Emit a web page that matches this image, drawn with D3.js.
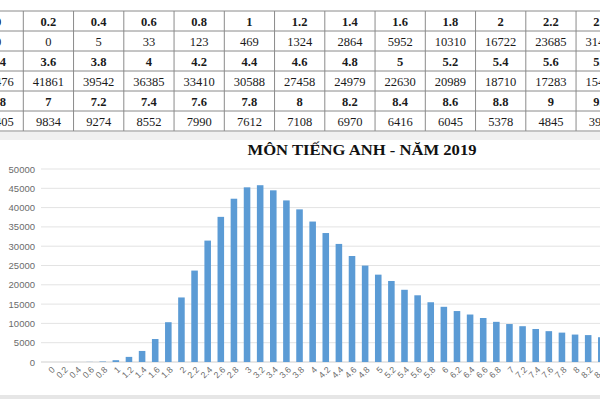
<!DOCTYPE html>
<html><head><meta charset="utf-8">
<script src="https://cdn.jsdelivr.net/npm/d3@7/dist/d3.min.js"></script>
<style>body{margin:0;background:#fff}svg{display:block}</style>
</head><body>
<svg id="c" width="600" height="399"></svg>
<script>
const scores = ["0","0.2","0.4","0.6","0.8","1","1.2","1.4","1.6","1.8","2","2.2","2.4","2.6","2.8","3","3.2",
  "3.4","3.6","3.8","4","4.2","4.4","4.6","4.8","5","5.2","5.4","5.6","5.8","6","6.2","6.4","6.6",
  "6.8","7","7.2","7.4","7.6","7.8","8","8.2","8.4","8.6","8.8","9","9.2"];
const counts = [0,0,5,33,123,469,1324,2864,5952,10310,16722,23685,31450,37600,42300,45250,45800,
  44476,41861,39542,36385,33410,30588,27458,24979,22630,20989,18710,17283,15480,14300,13200,12300,11400,
  10405,9834,9274,8552,7990,7612,7108,6970,6416,6045,5378,4845,3920];
const yTicks = [0,5000,10000,15000,20000,25000,30000,35000,40000,45000,50000];
const tableRow1 = ["0","0.2","0.4","0.6","0.8","1","1.2","1.4","1.6","1.8","2","2.2","2.4"];
const tableRow2 = ["3.4","3.6","3.8","4","4.2","4.4","4.6","4.8","5","5.2","5.4","5.6","5.8"];
const tableRow3 = ["6.8","7","7.2","7.4","7.6","7.8","8","8.2","8.4","8.6","8.8","9","9.2"];
const title = "MÔN TIẾNG ANH - NĂM 2019";

const svg = d3.select("#c");
const lookup = new Map(scores.map((s,i)=>[s,counts[i]]));

// ---- table ----
const colX = d3.scaleBand().domain(d3.range(13)).range([-26.95, -26.95 + 13*50.25]);
const rowY = d3.scaleBand().domain(d3.range(6)).range([11, 131]);
const rows = [];
[tableRow1, tableRow2, tableRow3].forEach(r => {
  rows.push({bold:true, cells:r});
  rows.push({bold:false, cells:r.map(s => String(lookup.get(s)))});
});
const tg = svg.append("g");
rows.forEach((r, ri) => {
  tg.selectAll(null).data(r.cells).enter().append("text")
    .attr("x", (d,i) => colX(i) + colX.bandwidth()/2)
    .attr("y", rowY(ri) + rowY.bandwidth()/2 + 4.5)
    .attr("text-anchor","middle")
    .attr("font-family","'Liberation Serif', serif")
    .attr("font-size", 12.5)
    .attr("font-weight", r.bold ? "bold" : "normal")
    .attr("fill","#1a1a1a")
    .text(d => d);
});
const hLines = d3.range(7).map(i => 11 + i*rowY.bandwidth());
tg.selectAll(null).data(hLines).enter().append("line")
  .attr("x1",0).attr("x2",600).attr("y1",d=>d).attr("y2",d=>d)
  .attr("stroke","#8a8a8a").attr("stroke-width",1);
tg.selectAll(null).data(d3.range(14)).enter().append("line")
  .attr("x1",d=>colX.range()[0] + d*colX.step()).attr("x2",d=>colX.range()[0] + d*colX.step())
  .attr("y1",11).attr("y2",131)
  .attr("stroke","#8a8a8a").attr("stroke-width",1);
svg.append("rect").attr("x",0).attr("y",132).attr("width",600).attr("height",8).attr("fill","#f1f1f1");
svg.append("rect").attr("x",0).attr("y",395).attr("width",600).attr("height",4).attr("fill","#e6e6e6");

// ---- chart ----
const x = d3.scaleBand().domain(scores).range([40.4, 40.4 + scores.length*13.26]).padding(0.5);
const y = d3.scaleLinear().domain([0,50000]).range([362,169]);

svg.append("text").attr("x",362).attr("y",155).attr("text-anchor","middle")
  .attr("font-family","'Liberation Serif', serif").attr("font-weight","bold")
  .attr("font-size",15.5).attr("textLength",229).attr("lengthAdjust","spacingAndGlyphs")
  .attr("fill","#111").text(title);

const gy = svg.append("g");
gy.selectAll(null).data(yTicks.filter(d=>d>0)).enter().append("line")
  .attr("x1",41).attr("x2",600).attr("y1",d=>y(d)).attr("y2",d=>y(d))
  .attr("stroke","#e3e3e3").attr("stroke-width",1);
gy.append("line").attr("x1",41).attr("x2",600).attr("y1",y(0)).attr("y2",y(0))
  .attr("stroke","#cfcfcf").attr("stroke-width",1);
gy.selectAll(null).data(yTicks).enter().append("text")
  .attr("x",35).attr("y",d=>y(d)+3.5).attr("text-anchor","end")
  .attr("font-family","'Liberation Sans', sans-serif").attr("font-size",9.5)
  .attr("fill","#6b6b6b").text(d=>d);

svg.append("g").selectAll("rect").data(scores).enter().append("rect")
  .attr("x",d=>x(d)).attr("width",x.bandwidth())
  .attr("y",d=>y(lookup.get(d))).attr("height",d=>y(0)-y(lookup.get(d)))
  .attr("fill","#5b9bd5");

svg.append("g").selectAll("text").data(scores).enter().append("text")
  .attr("transform",d=>`translate(${x(d)+x.bandwidth()/2+3},${368}) rotate(-45)`)
  .attr("text-anchor","end").attr("dy","0.35em")
  .attr("font-family","'Liberation Sans', sans-serif").attr("font-size",8.8)
  .attr("fill","#6b6b6b").text(d=>d);
</script>
</body></html>
